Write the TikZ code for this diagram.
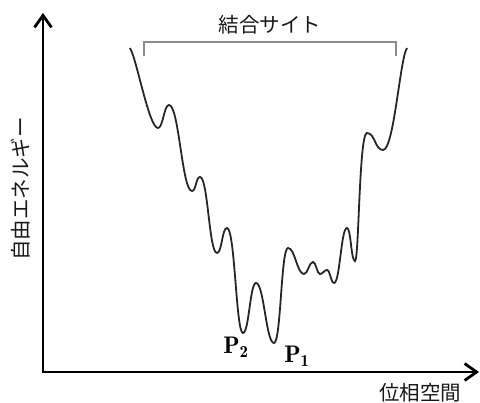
\documentclass[tikz,border=0pt]{standalone}
\usepackage{fontspec}
\newfontfamily\jp{Noto Sans CJK JP}
\usetikzlibrary{arrows.meta}
\begin{document}
\begin{tikzpicture}[x=1pt,y=-1pt,
  axis/.style={line width=2.8pt, draw=black, line join=miter},
  curve/.style={line width=1.8pt, draw=black!85},
  bracket/.style={line width=1.5pt, draw=black!45},
  jplabel/.style={font=\jp\fontsize{20.5}{24}\selectfont, inner sep=0pt, text=black!90},
  plabel/.style={font=\fontsize{24}{26}\selectfont, inner sep=0pt}]
\useasboundingbox (0,0) rectangle (480,403);
% axes
\coordinate (ytop) at (43,13);
\coordinate (orig) at (43,372);
\coordinate (xend) at (479,372);
\draw[axis, {Straight Barb[length=12pt,width=17pt]}-{Straight Barb[length=12pt,width=17pt]}] (ytop) -- (orig) -- (xend);
% bracket
\coordinate (bl) at (144,56);
\coordinate (br) at (396,56);
\draw[bracket] (bl) -- (144,42) -- (396,42) -- (br);
% energy landscape
\draw[curve] (130,48) .. controls (137,60) and (149,128) .. (158,128)
 .. controls (163,128) and (164,105) .. (169,105)
 .. controls (179,105) and (182,191) .. (192,191)
 .. controls (196,191) and (196,177) .. (200,177)
 .. controls (208,177) and (209,253) .. (217,253)
 .. controls (222,253) and (222,228) .. (227,228)
 .. controls (235,228) and (236,333) .. (243,333)
 .. controls (249,333) and (250,283) .. (256,283)
 .. controls (264,283) and (266,343) .. (274,343)
 .. controls (281,343) and (281,248) .. (288,248)
 .. controls (295,248) and (297,274) .. (304,274)
 .. controls (308,274) and (309,262) .. (313,262)
 .. controls (316,262) and (317,274) .. (320,274)
 .. controls (323,274) and (324,270) .. (327,270)
 .. controls (330,270) and (331,283) .. (334,283)
 .. controls (340,283) and (341,228) .. (347,228)
 .. controls (351,228) and (351,261) .. (355,261)
 .. controls (359,261) and (359,133) .. (367,133)
 .. controls (375,133) and (375,150) .. (383,150)
 .. controls (394,150) and (400,58) .. (407,48);
% labels
\node[jplabel] (site) at (270,25) {結合サイト};
\node[jplabel, rotate=90] (ylab) at (21,189) {自由エネルギー};
\node[jplabel] (xlab) at (420,393) {位相空間};
\node[plabel] (p2) at (236,347) {$\mathbf{P_2}$};
\node[plabel] (p1) at (297,356) {$\mathbf{P_1}$};
\end{tikzpicture}
\end{document}
